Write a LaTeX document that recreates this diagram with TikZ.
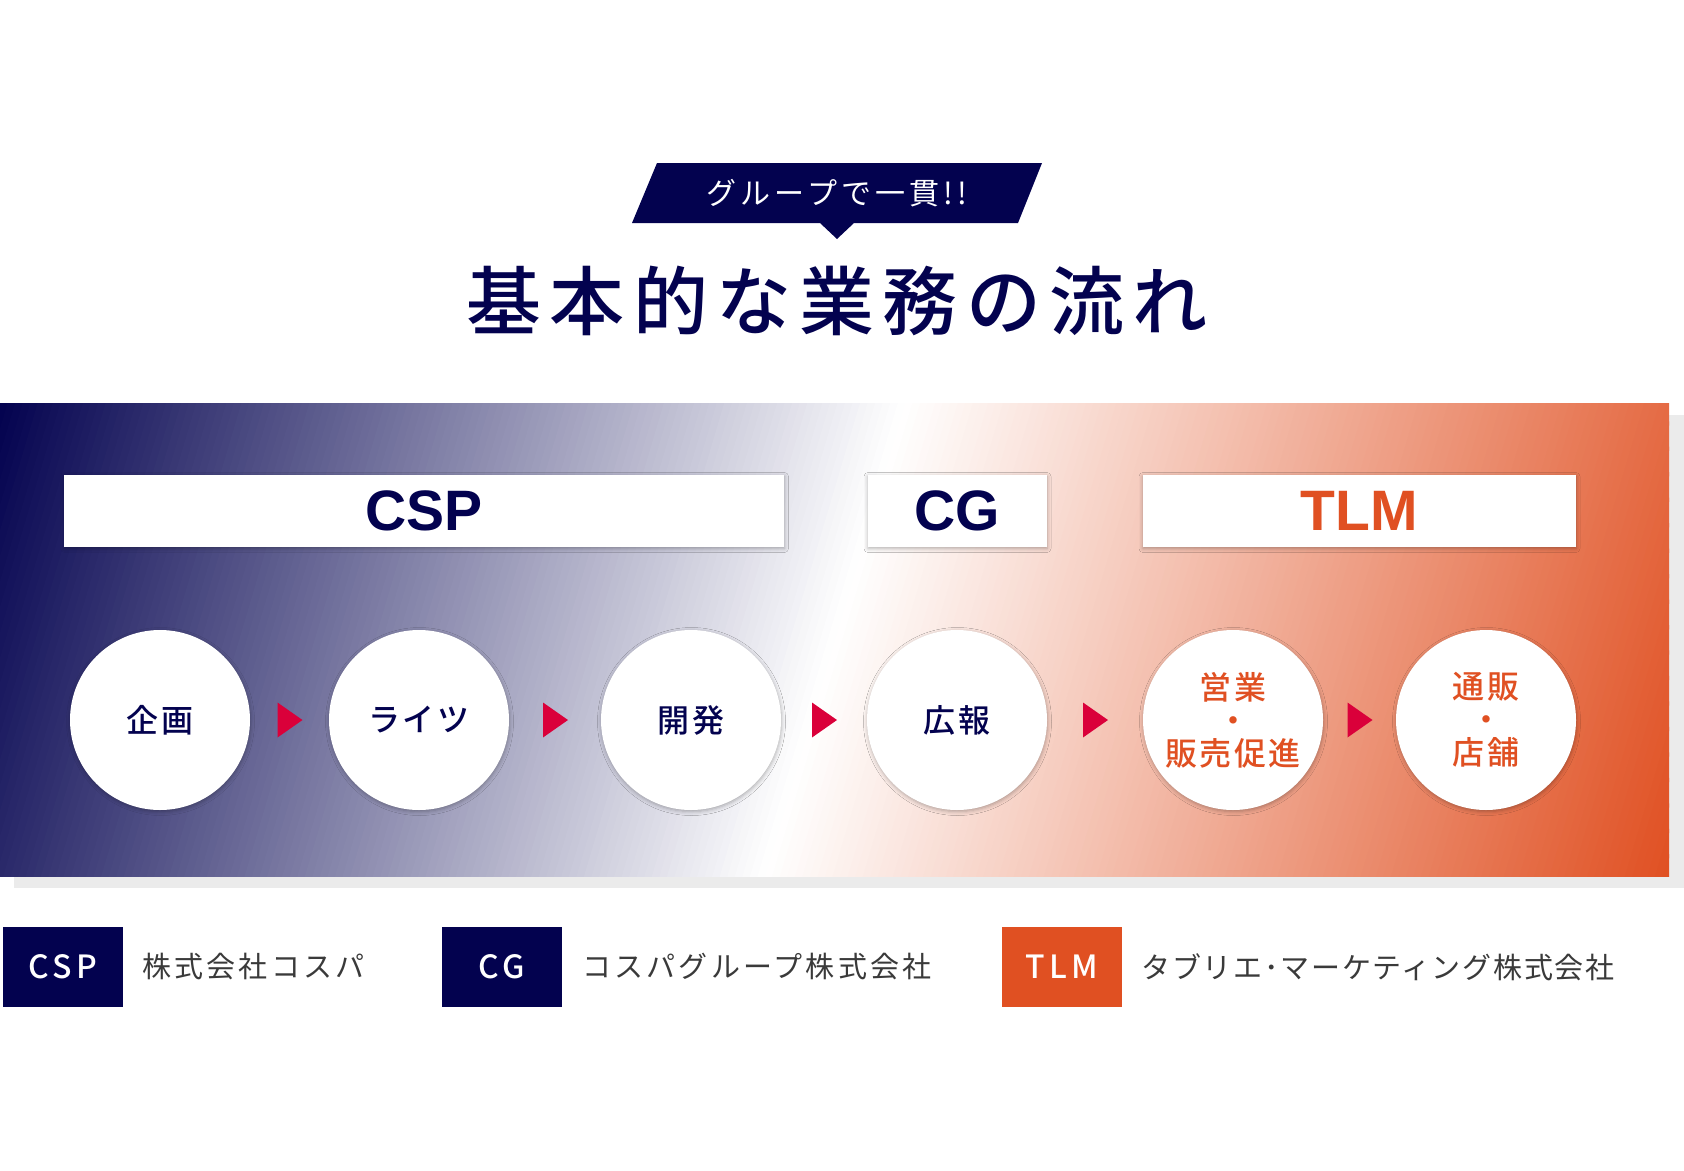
\documentclass[tikz,border=0pt]{standalone}
\usepackage{fontspec}
\setmainfont{Noto Sans CJK JP}
\newfontfamily\titlefont[LetterSpace=11]{Noto Sans CJK JP Medium}
\newfontfamily\tagfont[LetterSpace=14]{Noto Sans CJK JP}
\newfontfamily\stepfont[LetterSpace=8]{Noto Sans CJK JP Medium}
\newfontfamily\legendfont[LetterSpace=11]{Noto Sans CJK JP}
\newfontfamily\legendtight[LetterSpace=6]{Noto Sans CJK JP}
\newfontfamily\codefont[LetterSpace=14]{Noto Sans CJK JP Medium}
\newfontfamily\groupfont{Liberation Sans}
\usetikzlibrary{
    calc,
    shadows.blur,
}
\definecolor{navy}{HTML}{03024F}
\definecolor{tlmorange}{HTML}{E05022}
\definecolor{markred}{HTML}{DA003A}
\definecolor{legendgray}{HTML}{3A3A3A}
\definecolor{panelshadow}{HTML}{EBEBEB}

\begin{document}
\begin{tikzpicture}[
        x=1pt, y=-1pt,
        softshadow/.style={blur shadow={shadow xshift=0.5pt, shadow yshift=-1.5pt,
            shadow blur radius=4pt, shadow opacity=30}},
        groupbox/.style={rectangle, fill=white, minimum height=72pt, inner sep=0pt, softshadow,
            font=\groupfont\bfseries\fontsize{57}{60}\selectfont},
        stepcircle/.style={circle, fill=white, minimum size=180pt, inner sep=0pt, align=center, softshadow,
            font=\stepfont\fontsize{32}{33}\selectfont},
        legendbox/.style={rectangle, minimum width=120pt, minimum height=80pt, inner sep=0pt,
            text=white, font=\codefont\fontsize{32}{34}\selectfont},
        legendtext/.style={anchor=west, inner sep=0pt, text=legendgray,
            font=\legendfont\fontsize{29}{30}\selectfont},
        flowmark/.style={fill=markred}
        ]
        \useasboundingbox (0,0) rectangle (1684,1170);
        % banner and title
        \fill[navy] (657,163) -- (1042,163) -- (1018,223) -- (854,223) -- (837,239)
            -- (820,223) -- (632,223) -- cycle;
        \node[text=white, font=\tagfont\fontsize{30}{32}\selectfont] (TAG) at (837,193) {グループで一貫!!};
        \node[text=navy, font=\titlefont\fontsize{75}{80}\selectfont] (TITLE) at (837,301) {基本的な業務の流れ};
        % gradient panel, tilted strips
        \fill[panelshadow] (14,415) rectangle (1684,888);
        \begin{scope}
            \clip (0,403) rectangle (1669,876);
            \begin{scope}[shift={(835,640)}, rotate=-16.5]
                \foreach \k in {0,...,239} {
                    \pgfmathsetmacro{\stripa}{-868+\k*7.2333}
                    \pgfmathsetmacro{\stripb}{\stripa+8.2}
                    \pgfmathsetmacro{\stripm}{\stripa+3.62}
                    \pgfmathsetmacro{\strippct}{min(100,abs(\stripm)/868*100)}
                    \ifdim\stripm pt<0pt
                        \colorlet{stripcol}{navy!\strippct!white}
                    \else
                        \colorlet{stripcol}{tlmorange!\strippct!white}
                    \fi
                    \fill[stripcol] (\stripa,-520) rectangle (\stripb,520);
                }
            \end{scope}
        \end{scope}
        % companies
        \node[groupbox, minimum width=720pt, text=navy]      (CSP) at (424,511)  {CSP};
        \node[groupbox, minimum width=179pt, text=navy]      (CG)  at (957,511)  {CG};
        \node[groupbox, minimum width=433pt, text=tlmorange] (TLM) at (1359,511) {TLM};
        % steps
        \node[stepcircle, text=navy]      (S1) at (160,720)  {企画};
        \node[stepcircle, text=navy]      (S2) at (419,720)  {ライツ};
        \node[stepcircle, text=navy]      (S3) at (691,720)  {開発};
        \node[stepcircle, text=navy]      (S4) at (957,720)  {広報};
        \node[stepcircle, text=tlmorange] (S5) at (1233,720) {営業\\・\\販売促進};
        \node[stepcircle, text=tlmorange] (S6) at (1486,720) {通販\\・\\店舗};
        \foreach \a/\b in {S1/S2, S2/S3, S3/S4, S4/S5, S5/S6} {
            \coordinate (M) at ($(\a)!0.5!(\b)$);
            \fill[flowmark] ($(M)+(-12,-17.5)$) -- ($(M)+(13,0)$) -- ($(M)+(-12,17.5)$) -- cycle;
        }
        % legend
        \node[legendbox, fill=navy]      (KCSP) at (63,967)   {CSP};
        \node[legendbox, fill=navy]      (KCG)  at (502,967)  {CG};
        \node[legendbox, fill=tlmorange] (KTLM) at (1062,967) {TLM};
        \node[legendtext] (NCSP) at ($(KCSP.east)+(19,0)$) {株式会社コスパ};
        \node[legendtext] (NCG)  at ($(KCG.east)+(20,0)$)  {コスパグループ株式会社};
        \node[legendtext, font=\legendtight\fontsize{29}{30}\selectfont] (NTLM) at ($(KTLM.east)+(19,0)$) {タブリエ･マーケティング株式会社};
    \end{tikzpicture}
\end{document}
